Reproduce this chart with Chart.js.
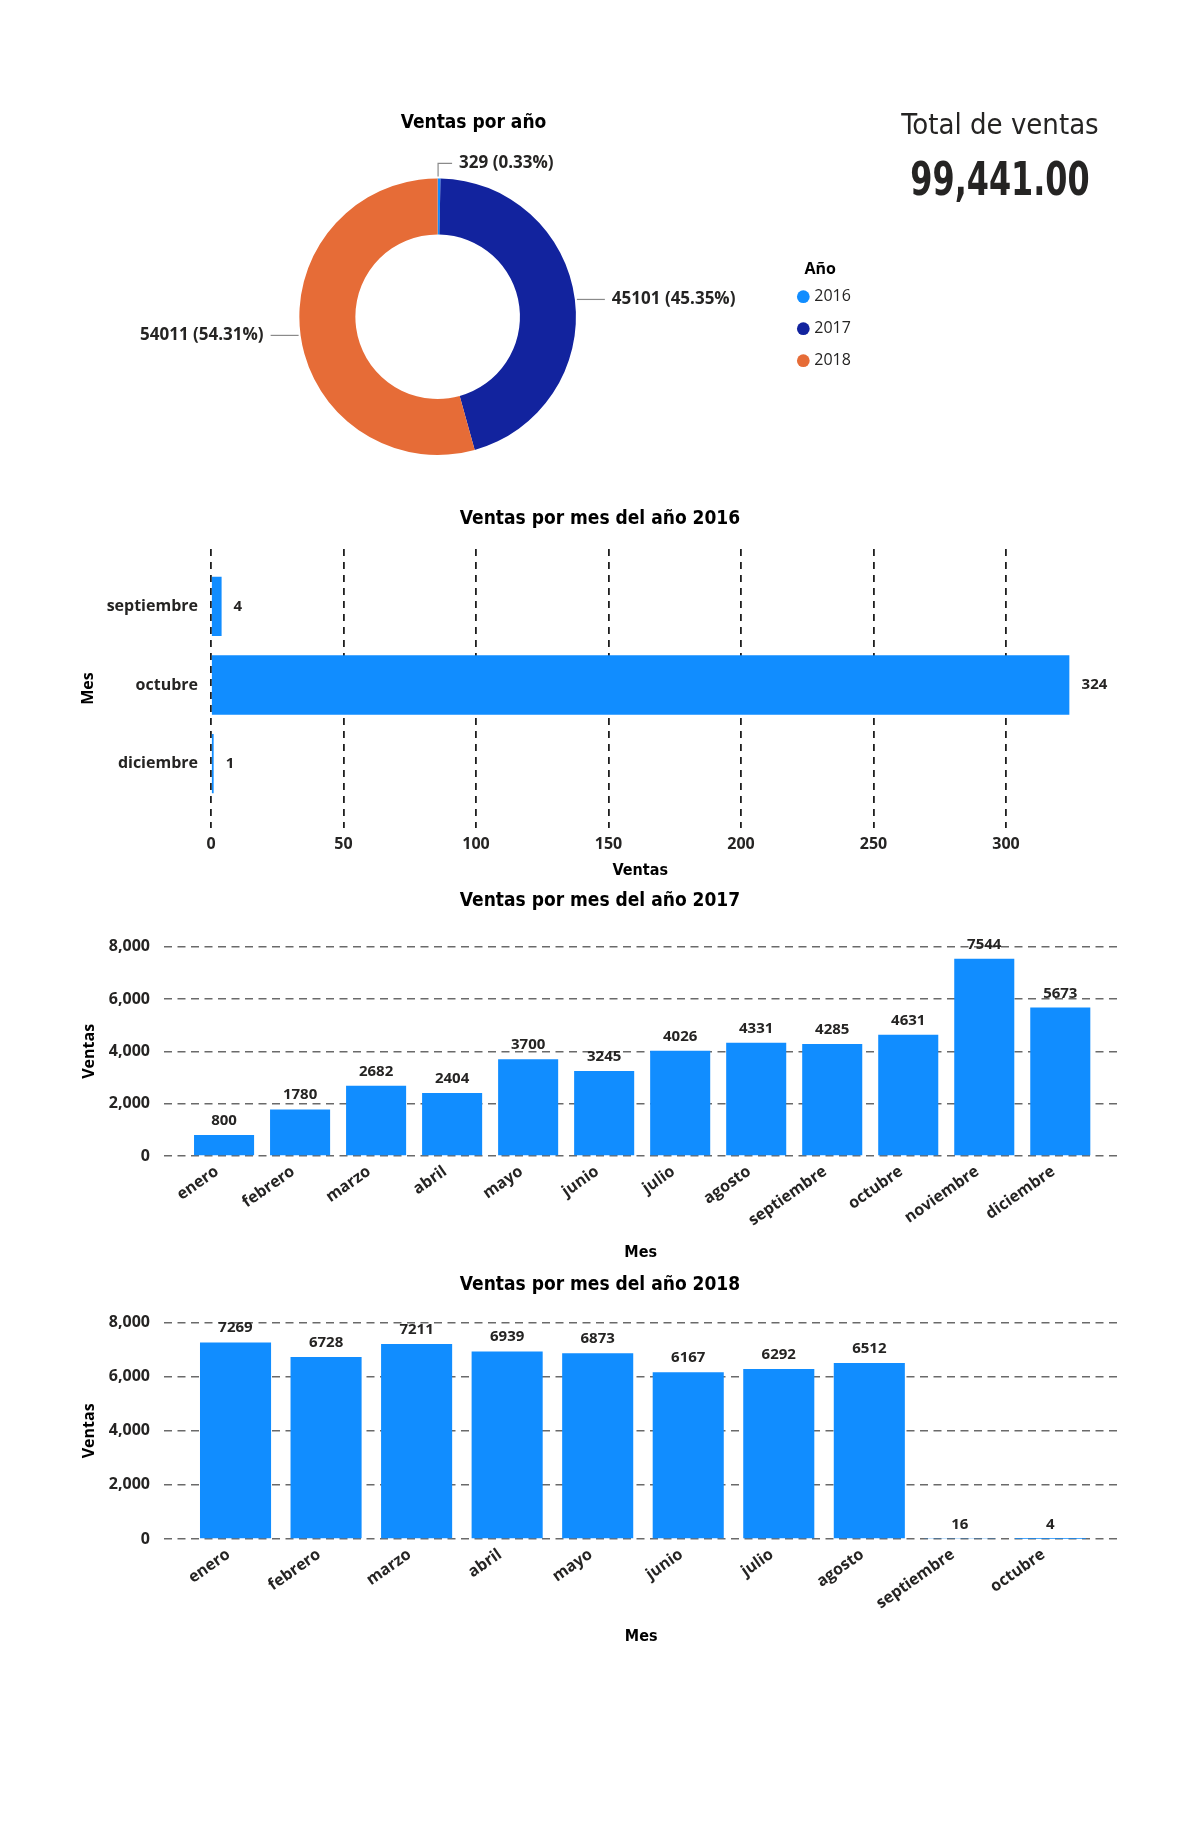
<!DOCTYPE html>
<html><head><meta charset="utf-8">
<script src="https://cdn.jsdelivr.net/npm/chart.js@4.4.1/dist/chart.umd.min.js"></script>
<style>
html,body{margin:0;padding:0;background:#fff;}
body{width:1200px;height:1837px;position:relative;overflow:hidden;font-family:'Open Sans',sans-serif;}
canvas{position:absolute;left:0;}
.card{position:absolute;left:850px;width:300px;text-align:center;color:#252423;white-space:nowrap;}
</style></head><body>
<canvas id="cDonut" width="938" height="380" style="top:90px"></canvas>
<div class="card" id="cardTitle" style="top:107px;font:29px 'DejaVu Sans Condensed',sans-serif;">Total de ventas</div>
<div class="card" id="cardValue" style="top:152px;font:bold 46px 'DejaVu Sans Condensed',sans-serif;transform:scaleX(0.77);transform-origin:150px 50%;"></div>
<canvas id="c2016" width="1200" height="385" style="top:495px"></canvas>
<canvas id="c2017" width="1200" height="390" style="top:880px"></canvas>
<canvas id="c2018" width="1200" height="395" style="top:1265px"></canvas>
<script>
// ---------------- DATA ----------------
const years = ['2016', '2017', '2018'];
const salesByYear = [329, 45101, 54011];

const months2016 = ['septiembre', 'octubre', 'diciembre'];
const sales2016 = [4, 324, 1];

const months2017 = ['enero', 'febrero', 'marzo', 'abril', 'mayo', 'junio', 'julio', 'agosto', 'septiembre', 'octubre', 'noviembre', 'diciembre'];
const sales2017 = [800, 1780, 2682, 2404, 3700, 3245, 4026, 4331, 4285, 4631, 7544, 5673];

const months2018 = ['enero', 'febrero', 'marzo', 'abril', 'mayo', 'junio', 'julio', 'agosto', 'septiembre', 'octubre'];
const sales2018 = [7269, 6728, 7211, 6939, 6873, 6167, 6292, 6512, 16, 4];

const ticks2016 = [0, 50, 100, 150, 200, 250, 300];
const ticksMonthly = [0, 2000, 4000, 6000, 8000];

// ---------------- STYLE ----------------
const YEAR_COLORS = ['#118DFF', '#12239E', '#E66C37'];
const BAR = '#118DFF';
const TXT = '#252423';
const LF = "'Open Sans', 'Noto Sans', sans-serif";
const TF = "'DejaVu Sans Condensed', 'DejaVu Sans', sans-serif";

Chart.defaults.font.family = LF;
Chart.defaults.color = TXT;
Chart.defaults.animation = false;

// card
const total = salesByYear.reduce((a, b) => a + b, 0);
document.getElementById('cardValue').textContent =
  total.toLocaleString('en-US', {minimumFractionDigits: 2, maximumFractionDigits: 2});

// value labels for bars
const valueLabels = {
  id: 'valueLabels',
  afterDatasetsDraw(chart, args, opts) {
    const ctx = chart.ctx;
    const meta = chart.getDatasetMeta(0);
    const horiz = chart.options.indexAxis === 'y';
    const vals = chart.data.datasets[0].data;
    ctx.save();
    ctx.font = `bold ${opts.size}px ${LF}`;
    ctx.fillStyle = TXT;
    meta.data.forEach((bar, i) => {
      const v = horiz ? vals[i].x : vals[i].y;
      if (horiz) {
        ctx.textAlign = 'left'; ctx.textBaseline = 'middle';
        ctx.fillText(String(v), bar.x + opts.gap, bar.y);
      } else {
        ctx.textAlign = 'center'; ctx.textBaseline = 'alphabetic';
        ctx.fillText(String(v), bar.x, bar.y - opts.gap);
      }
    });
    ctx.restore();
  }
};

// donut labels with leader lines
const donutLabels = {
  id: 'donutLabels',
  afterDatasetsDraw(chart, args, opts) {
    const ctx = chart.ctx;
    const meta = chart.getDatasetMeta(0);
    const ds = chart.data.datasets[0].data;
    const sum = ds.reduce((a, b) => a + b, 0);
    ctx.save();
    ctx.font = `bold ${opts.size}px ${LF}`;
    ctx.fillStyle = TXT;
    ctx.strokeStyle = '#8a8a8a';
    ctx.lineWidth = 1.2;
    meta.data.forEach((arc, i) => {
      const p = arc.getProps(['x', 'y', 'startAngle', 'endAngle', 'outerRadius'], true);
      const mid = (p.startAngle + p.endAngle) / 2;
      const px = p.x + Math.cos(mid) * p.outerRadius;
      const py = p.y + Math.sin(mid) * p.outerRadius;
      const txt = `${ds[i]} (${(ds[i] / sum * 100).toFixed(2)}%)`;
      let tx, ty, align;
      ctx.beginPath();
      if (p.endAngle - p.startAngle < 0.15) {
        ctx.moveTo(px - 1, py - 2);
        ctx.lineTo(px - 1, py - opts.rise);
        ctx.lineTo(px - 1 + opts.run, py - opts.rise);
        tx = px - 1 + opts.run + opts.gap; ty = py - opts.rise; align = 'left';
      } else {
        const dir = Math.cos(mid) >= 0 ? 1 : -1;
        ctx.moveTo(px + dir * 2, py);
        ctx.lineTo(px + dir * opts.len, py);
        tx = px + dir * (opts.len + opts.gap); ty = py; align = dir > 0 ? 'left' : 'right';
      }
      ctx.stroke();
      ctx.textAlign = align; ctx.textBaseline = 'middle';
      ctx.fillText(txt, tx, ty);
    });
    ctx.restore();
  }
};

// ---------------- DONUT ----------------
new Chart(document.getElementById('cDonut'), {
  type: 'doughnut',
  data: {
    labels: years,
    datasets: [{data: salesByYear, backgroundColor: YEAR_COLORS, borderWidth: 0, hoverOffset: 0}]
  },
  options: {
    responsive: false,
    cutout: '59.5%',
    layout: {padding: {left: 91, right: 82, top: 0, bottom: 15}},
    plugins: {
      title: {display: true, text: 'Ventas por año', color: '#000',
        font: {family: TF, size: 19, weight: 'bold'}, padding: {top: 21.7, bottom: 43.9}},
      legend: {
        position: 'right', align: 'start', maxWidth: 71.7,
        title: {display: true, text: 'Año', position: 'center', color: '#000',
          font: {family: LF, size: 16, weight: 'bold'}, padding: {top: 171.5, bottom: -8}},
        labels: {usePointStyle: true, pointStyle: 'circle', boxWidth: 6, boxHeight: 9,
          padding: 16, color: TXT, font: {family: LF, size: 16}}
      },
      tooltip: {enabled: false},
      donutLabels: {size: 17, rise: 15, run: 14, gap: 7, len: 30}
    }
  },
  plugins: [donutLabels]
});

// ---------------- helpers ----------------
function idxTicks(n) {
  return function (axis) {
    axis.ticks = [];
    for (let i = 0; i < n; i++) axis.ticks.push({value: i});
  };
}
function valTicks(list) {
  return function (axis) { axis.ticks = list.map(v => ({value: v})); };
}
// empty right-hand box so the chart title centres over the whole visual
function spacerAxis(axisDir, width) {
  return {
    type: 'linear', axis: axisDir, position: 'right', display: true,
    afterFit(s) { s.width = width; },
    grid: {display: false, drawTicks: false}, border: {display: false},
    ticks: {display: false}
  };
}

// ---------------- 2016 (horizontal) ----------------
new Chart(document.getElementById('c2016'), {
  type: 'bar',
  data: {
    datasets: [{data: sales2016.map((v, i) => ({x: v, y: i})), backgroundColor: BAR,
      borderWidth: 0, barPercentage: 0.755, categoryPercentage: 1}]
  },
  options: {
    responsive: false,
    indexAxis: 'y',
    layout: {padding: {left: 70, right: 70, top: 0, bottom: 0}},
    plugins: {
      legend: {display: false}, tooltip: {enabled: false},
      title: {display: true, text: 'Ventas por mes del año 2016', color: '#000',
        font: {family: TF, size: 19, weight: 'bold'}, padding: {top: 12.9, bottom: 18.3}},
      valueLabels: {size: 15, gap: 12}
    },
    scales: {
      x: {
        type: 'linear', min: 0, max: Math.max(...sales2016),
        afterBuildTicks: valTicks(ticks2016),
        afterFit(s) { s.height = 52; },
        grid: {color: '#1e1e1e', lineWidth: 1.8, drawTicks: false},
        border: {display: false, dash: [7, 6]},
        ticks: {padding: 7, color: TXT, font: {size: 16, weight: 'bold'}},
        title: {display: true, text: 'Ventas', color: '#000', padding: 0,
          font: {family: TF, size: 16, weight: 'bold'}}
      },
      y: {
        type: 'linear', reverse: true, offset: false,
        min: -0.73, max: months2016.length - 1 + 0.82,
        afterBuildTicks: idxTicks(months2016.length),
        afterFit(s) { s.width = 141; },
        grid: {display: false, drawTicks: false, offset: false},
        border: {display: false},
        ticks: {padding: 13, color: TXT, font: {size: 16, weight: 'bold'},
          callback: v => months2016[v]},
        title: {display: true, text: 'Mes', color: '#000', padding: {top: 9, bottom: 0},
          font: {family: LF, size: 16, weight: 'bold'}}
      },
      pad: spacerAxis('y', 60.4)
    }
  },
  plugins: [valueLabels]
});

// ---------------- monthly column charts ----------------
function columnChart(id, titleText, labels, values, cfg) {
  return new Chart(document.getElementById(id), {
    type: 'bar',
    data: {
      datasets: [{data: values.map((v, i) => ({x: i, y: v})), backgroundColor: BAR,
        borderWidth: 0, barPercentage: cfg.barPct, categoryPercentage: 1}]
    },
    options: {
      responsive: false,
      layout: {padding: {left: 70, right: 70, top: 0, bottom: cfg.padBottom}},
      plugins: {
        legend: {display: false}, tooltip: {enabled: false},
        title: {display: true, text: titleText, color: '#000',
          font: {family: TF, size: 19, weight: 'bold'}, padding: {top: cfg.tTop, bottom: cfg.tBottom}},
        valueLabels: {size: 15, gap: 10}
      },
      scales: {
        x: {
          type: 'linear', offset: false, min: -0.79, max: labels.length - 1 + 0.75,
          afterBuildTicks: idxTicks(labels.length),
          afterFit(s) { s.height = cfg.xHeight; },
          grid: {display: false, drawTicks: false, offset: false},
          border: {display: false},
          ticks: {autoSkip: false, minRotation: 35, maxRotation: 35, padding: 6, labelOffset: -7,
            color: TXT, font: {size: 16, weight: 'bold'}, callback: v => labels[v]},
          title: {display: true, text: 'Mes', color: '#000', padding: 0,
            font: {family: TF, size: 16, weight: 'bold'}}
        },
        y: {
          type: 'linear', min: 0, max: ticksMonthly[ticksMonthly.length - 1],
          afterBuildTicks: valTicks(ticksMonthly),
          afterFit(s) { s.width = 94; },
          grid: {color: '#6a6a6a', lineWidth: 1.6, drawTicks: false},
          border: {display: false, dash: [8, 5.5]},
          ticks: {padding: 14, color: TXT, font: {size: 16, weight: 'bold'}},
          title: {display: true, text: 'Ventas', color: '#000', padding: {top: 9.5, bottom: 0},
            font: {family: LF, size: 16, weight: 'bold'}}
        },
        pad: spacerAxis('y', cfg.spacer)
      }
    },
    plugins: [valueLabels]
  });
}

columnChart('c2017', 'Ventas por mes del año 2017', months2017, sales2017,
  {barPct: 0.79, padBottom: 8, tTop: 9.9, tBottom: 34, xHeight: 106, spacer: 12.7});
columnChart('c2018', 'Ventas por mes del año 2018', months2018, sales2018,
  {barPct: 0.785, padBottom: 14, tTop: 8.7, tBottom: 26.2, xHeight: 107, spacer: 11.7});
</script>
</body></html>
